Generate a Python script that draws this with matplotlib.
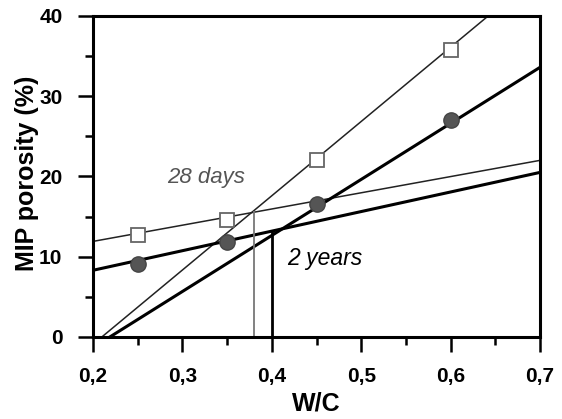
import matplotlib
matplotlib.use("Agg")
import matplotlib.pyplot as plt
from matplotlib.ticker import MultipleLocator, FuncFormatter

plt.rcParams['font.family'] = ['Liberation Sans', 'DejaVu Sans']

# measured points
wc_pts = [0.25, 0.35, 0.45, 0.60]
por_28d = [12.7, 14.6, 22.0, 35.7]      # open squares
por_2y = [9.1, 11.8, 16.5, 27.0]        # filled circles

# fitted lines (x, y)
flat_28d_x = [0.20, 0.70]
flat_28d_y = [11.9, 22.0]
flat_2y_x = [0.20, 0.70]
flat_2y_y = [8.3, 20.5]
steep_28d_x = [0.21, 0.642]
steep_28d_y = [0.0, 40.0]
steep_2y_x = [0.219, 0.70]
steep_2y_y = [0.0, 33.6]

# intersection markers (vertical drops)
cross_28d = (0.38, 15.6)
cross_2y = (0.40, 13.1)

fig = plt.figure(figsize=(5.62, 4.19), dpi=100)
ax = fig.add_axes([0.1655, 0.196, 0.7955, 0.766])

ax.plot(flat_28d_x, flat_28d_y, color='#222222', lw=1.1)
ax.plot(steep_28d_x, steep_28d_y, color='#222222', lw=1.1)
ax.plot(flat_2y_x, flat_2y_y, color='black', lw=2.2)
ax.plot(steep_2y_x, steep_2y_y, color='black', lw=2.2)

ax.plot([cross_28d[0]] * 2, [0, cross_28d[1]], color='#777777', lw=1.3)
ax.plot([cross_2y[0]] * 2, [0, cross_2y[1]], color='black', lw=2.0)

ax.plot(wc_pts, por_28d, ls='none', marker='s', ms=10, mfc='white',
        mec='#666666', mew=1.3, zorder=5)
ax.plot(wc_pts, por_2y, ls='none', marker='o', ms=11, mfc='#555555',
        mec='#444444', mew=1, zorder=5)

ax.text(0.326, 19.9, '28 days', fontsize=16, style='italic', color='#555555',
        ha='center', va='center')
ax.text(0.417, 9.8, '2 years', fontsize=16.5, style='italic', color='black',
        ha='left', va='center')

ax.set_xlim(0.2, 0.7)
ax.set_ylim(0, 40)
ax.xaxis.set_major_locator(MultipleLocator(0.1))
ax.xaxis.set_minor_locator(MultipleLocator(0.05))
ax.yaxis.set_major_locator(MultipleLocator(10))
ax.yaxis.set_minor_locator(MultipleLocator(5))
ax.xaxis.set_major_formatter(FuncFormatter(lambda v, p: f"{v:.1f}".replace('.', ',')))
ax.yaxis.set_major_formatter(FuncFormatter(lambda v, p: f"{v:.0f}"))

ax.tick_params(which='major', direction='out', length=11, width=1.8, labelsize=15)
ax.tick_params(which='minor', direction='out', length=5.5, width=1.8)
ax.tick_params(axis='x', which='major', pad=11)
ax.tick_params(axis='y', which='major', pad=11)
for lab in ax.get_xticklabels() + ax.get_yticklabels():
    lab.set_fontweight('bold')

for s in ax.spines.values():
    s.set_linewidth(2.2)

ax.set_xlabel('W/C', fontsize=18, fontweight='bold', va='center')
ax.set_ylabel('MIP porosity (%)', fontsize=18, fontweight='bold', va='center')
ax.xaxis.set_label_coords(0.5, -0.209)
ax.yaxis.set_label_coords(-0.148, 0.509)

fig.savefig('out.png', dpi=100)
